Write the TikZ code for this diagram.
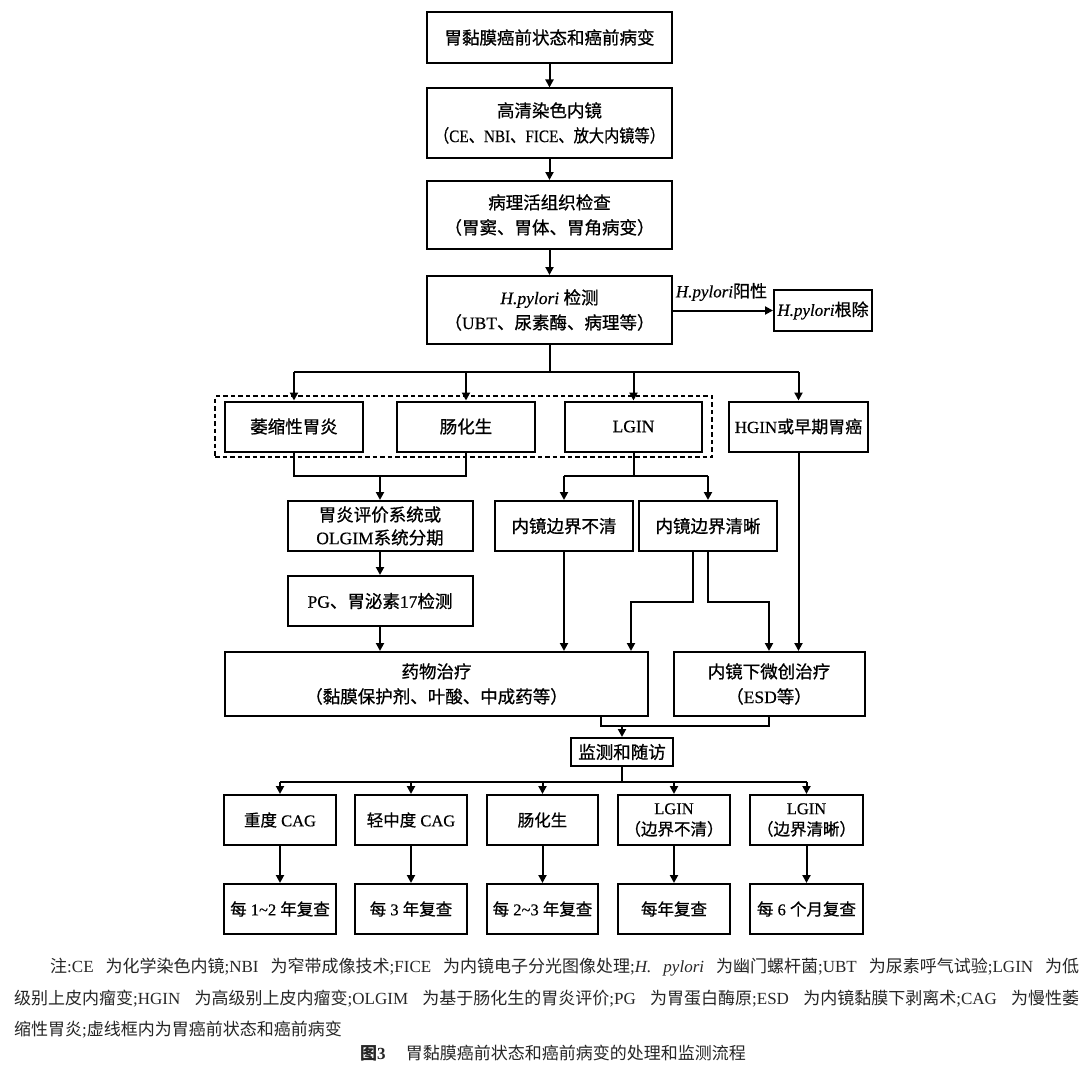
\documentclass[tikz,border=0pt]{standalone}
\usepackage{fontspec}
\setmainfont{Liberation Serif}
\newfontfamily\latheavy{Liberation Serif}[FakeBold=0.5]
\newfontfamily\cjkreg{Noto Sans CJK SC}
\newfontfamily\cjkheavy{Noto Sans CJK SC}[FakeBold=0.8]
\let\cjk\cjkreg
\def\latfont{\rmfamily}
\chardef\cjkcls=42
\newcount\cjkcnt
\def\cjkrange#1#2{\cjkcnt=#1\relax\loop\XeTeXcharclass\cjkcnt=\cjkcls\relax\ifnum\cjkcnt<#2\relax\advance\cjkcnt by 1\relax\repeat}
\cjkrange{"3000}{"303F}
\cjkrange{"4E00}{"9FFF}
\cjkrange{"FF00}{"FFEF}
\XeTeXinterchartoks 0 \cjkcls = {\cjk}
\XeTeXinterchartoks 4095 \cjkcls = {\cjk}
\XeTeXinterchartoks \cjkcls 0 = {\latfont}
\XeTeXinterchartoks \cjkcls 4095 = {\latfont}
\XeTeXinterchartokenstate=1
\usetikzlibrary{arrows.meta}
\def\heavy{\latheavy\let\latfont\latheavy\let\cjk\cjkheavy}
\begin{document}
\begin{tikzpicture}[x=1pt,y=-1pt,
  box/.style={draw, line width=2pt, inner sep=0pt, align=center, font=\fontsize{17.5}{25}\selectfont\heavy},
  sbox/.style={box, font=\fontsize{16.5}{21}\selectfont\heavy},
  arr/.style={-{Triangle[length=8pt,width=8pt]}, line width=2pt},
  ln/.style={line width=2pt},
  note/.style={anchor=west, inner sep=0pt, font=\fontsize{17}{20}\selectfont, text=black!85},
]
\useasboundingbox[fill=white] (0,0) rectangle (1080,1065);

% main column
\node[box, minimum width=245pt, minimum height=51pt] (b1) at (549.5,37.5) {胃黏膜癌前状态和癌前病变};
\node[box, minimum width=245pt, minimum height=69pt] (b2) at (549.5,123) {高清染色内镜\\\scalebox{0.87}[1]{（CE、NBI、FICE、放大内镜等）}};
\node[box, minimum width=245pt, minimum height=68pt] (b3) at (549.5,215) {病理活组织检查\\（胃窦、胃体、胃角病变）};
\node[box, minimum width=245pt, minimum height=68pt] (b4) at (549.5,310) {{\itshape H.pylori} 检测\\（UBT、尿素酶、病理等）};
\node[box, minimum width=98pt, minimum height=41pt, font=\fontsize{17}{20}\selectfont\heavy] (hp) at (823,310.5) {{\itshape H.pylori}根除};
\node[inner sep=0pt, font=\fontsize{17}{20}\selectfont\heavy] (hplab) at (721.5,292) {{\itshape H.pylori}阳性};

\draw[arr] (b1.south) -- (b2.north);
\draw[arr] (b2.south) -- (b3.north);
\draw[arr] (b3.south) -- (b4.north);
\draw[arr] (b4.east |- hp.west) -- (hp.west);

% second row
\node[draw, line width=2pt, dash pattern=on 4.5pt off 3pt, minimum width=497pt, minimum height=61pt, inner sep=0pt] (grp) at (463.5,426.5) {};
\node[box, minimum width=138pt, minimum height=50pt] (r1) at (294,426.5) {萎缩性胃炎};
\node[box, minimum width=138pt, minimum height=50pt] (r2) at (466,426.5) {肠化生};
\node[box, minimum width=137pt, minimum height=50pt] (r3) at (633.5,426.5) {LGIN};
\node[box, minimum width=139pt, minimum height=50pt, font=\fontsize{17}{20}\selectfont\heavy] (r4) at (798.5,426.5) {HGIN或早期胃癌};

\coordinate (bus1) at (549.5,372);
\draw[ln] (b4.south) -- (bus1);
\draw[ln] (r1.north |- bus1) -- (r4.north |- bus1);
\foreach \n in {r1,r2,r3,r4} \draw[arr] (\n.north |- bus1) -- (\n.north);

% third level
\node[box, minimum width=185pt, minimum height=50pt, font=\fontsize{17.5}{23}\selectfont\heavy] (c1) at (380,526) {胃炎评价系统或\\OLGIM系统分期};
\node[box, minimum width=185pt, minimum height=50pt] (c2) at (380,601) {PG、胃泌素17检测};
\node[box, minimum width=138pt, minimum height=50pt] (d1) at (564,526) {内镜边界不清};
\node[box, minimum width=138pt, minimum height=50pt] (d2) at (708,526) {内镜边界清晰};

\coordinate (m1) at (380,476);
\draw[ln] (r1.south) -- (r1.south |- m1) -- (r2.south |- m1) -- (r2.south);
\draw[arr] (m1) -- (c1.north);
\draw[arr] (c1.south) -- (c2.north);

\coordinate (m2) at (633.5,476);
\draw[ln] (r3.south) -- (m2);
\draw[ln] (d1.north |- m2) -- (d2.north |- m2);
\draw[arr] (d1.north |- m2) -- (d1.north);
\draw[arr] (d2.north |- m2) -- (d2.north);

% treatment
\node[box, minimum width=423pt, minimum height=64pt] (e1) at (436.5,684) {药物治疗\\（黏膜保护剂、叶酸、中成药等）};
\node[box, minimum width=191pt, minimum height=64pt] (e2) at (769,684) {内镜下微创治疗\\（ESD等）};

\draw[arr] (c2.south) -- (c2.south |- e1.north);
\draw[arr] (d1.south) -- (d1.south |- e1.north);
\coordinate (k1) at (631,602);
\coordinate (k2) at (e2.north |- k1);
\draw[arr] ([xshift=-15pt]d2.south) |- (k1) -- (k1 |- e1.north);
\draw[arr] (d2.south) |- (k2) -- (e2.north);
\draw[arr] (r4.south) -- (r4.south |- e2.north);

% follow-up
\node[box, minimum width=102pt, minimum height=28pt] (f) at (622,752) {监测和随访};
\coordinate (m3) at (601,726);
\draw[ln] (e1.south -| m3) -- (m3) -- (m3 -| e2.south) -- (e2.south);
\draw[arr] (f.north |- m3) -- (f.north);

\node[sbox, minimum width=112pt, minimum height=50pt] (g1) at (280,820) {重度 CAG};
\node[sbox, minimum width=112pt, minimum height=50pt] (g2) at (411,820) {轻中度 CAG};
\node[sbox, minimum width=111pt, minimum height=50pt] (g3) at (542.5,820) {肠化生};
\node[sbox, minimum width=112pt, minimum height=50pt] (g4) at (674,820) {LGIN\\（边界不清）};
\node[sbox, minimum width=113pt, minimum height=50pt] (g5) at (806.5,820) {LGIN\\（边界清晰）};

\node[sbox, minimum width=112pt, minimum height=50pt] (h1) at (280,909) {每 1\string~2 年复查};
\node[sbox, minimum width=112pt, minimum height=50pt] (h2) at (411,909) {每 3 年复查};
\node[sbox, minimum width=111pt, minimum height=50pt] (h3) at (542.5,909) {每 2\string~3 年复查};
\node[sbox, minimum width=112pt, minimum height=50pt] (h4) at (674,909) {每年复查};
\node[sbox, minimum width=113pt, minimum height=50pt] (h5) at (806.5,909) {每 6 个月复查};

\coordinate (m4) at (622,782);
\draw[ln] (f.south) -- (m4);
\draw[ln] (g1.north |- m4) -- (g5.north |- m4);
\foreach \i in {1,...,5} {
  \draw[arr] (g\i.north |- m4) -- (g\i.north);
  \draw[arr] (g\i.south) -- (h\i.north);
}

% notes
\node[note] (n1) at (50,967) {\hbox to 1029pt{注:CE 为化学染色内镜;NBI 为窄带成像技术;FICE 为内镜电子分光图像处理;{\itshape H. pylori} 为幽门螺杆菌;UBT 为尿素呼气试验;LGIN 为低}};
\node[note] (n2) at (14,999) {\hbox to 1065pt{级别上皮内瘤变;HGIN 为高级别上皮内瘤变;OLGIM 为基于肠化生的胃炎评价;PG 为胃蛋白酶原;ESD 为内镜黏膜下剥离术;CAG 为慢性萎}};
\node[note] (n3) at (14,1030) {缩性胃炎;虚线框内为胃癌前状态和癌前病变};
\node[inner sep=0pt, font=\fontsize{17}{20}\selectfont, text=black!85] (cap) at (553,1053) {{\bfseries 图3}\hspace{1.2em}胃黏膜癌前状态和癌前病变的处理和监测流程};
\end{tikzpicture}
\end{document}
